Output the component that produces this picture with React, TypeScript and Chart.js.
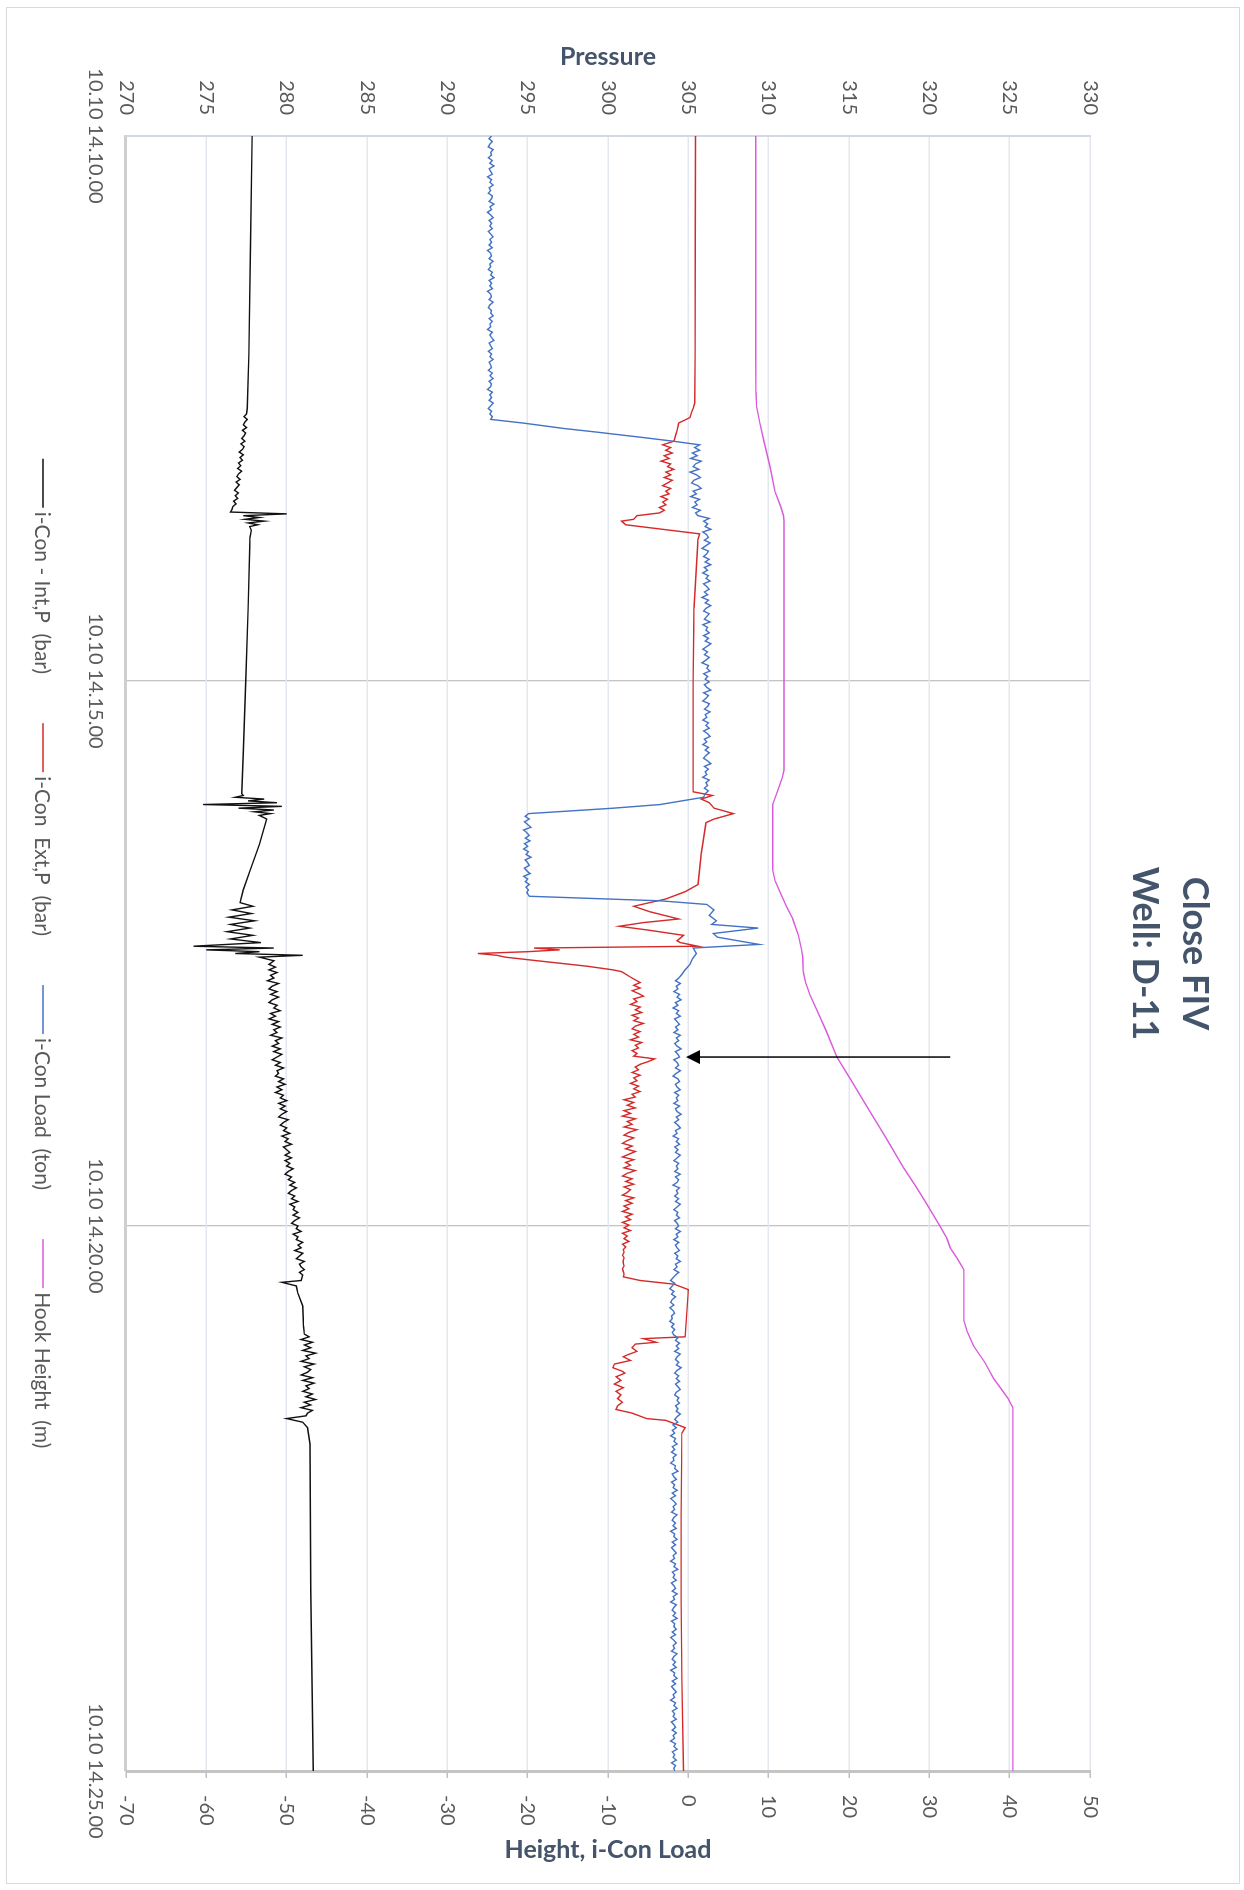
import React, { useEffect, useRef } from 'react';
import { Chart, registerables } from 'chart.js';

Chart.register(...registerables);

// ---------- text ----------
const TITLE_LINES = ['Close FIV', 'Well: D-11'];
const AXIS_TITLES = ['Pressure', 'Height, i-Con Load'];
const SERIES_NAMES = ['i-Con - Int,P  (bar)', 'i-Con  Ext,P  (bar)', 'i-Con Load  (ton)', 'Hook Height  (m)'];
const SERIES_COLORS = ['#111111', '#D42A2A', '#4472C4', '#DA5ADC'];
const TIME_TICKS = [0, 300, 600, 900]; // seconds after 14:10:00
const TIME_LABELS = ['10.10 14.10.00', '10.10 14.15.00', '10.10 14.20.00', '10.10 14.25.00'];

// arrow annotation (time s, from height, to height)
const ARROW = [507, 32.6, -0.3];

// helper: a run of readings sampled every dt seconds from t0
const seq = (t0: number, dt: number, v: number[]): [number, number][] => v.map((y, i) => [t0 + i * dt, y]);

// ---------- sampled readings (1.5 s apart) ----------
const INT_P_A = [
  277.5, 277.35, 277.55, 277.4, 277.3, 277.5, 277.25, 277.45, 277.35, 277.2,
  277.4, 277.15, 277.35, 277.25, 277.05, 277.3, 277.1, 277.25, 277.0, 277.15,
  276.95, 277.2, 277.0, 276.9, 277.1, 276.85, 277.05, 276.9, 276.75, 277.0,
  276.8, 276.95, 276.7, 276.85, 276.65, 276.6,
];
const INT_P_B = [
  279.3, 278.9, 279.4, 279.0, 279.2, 278.8, 279.5, 279.1, 278.9, 279.4,
  279.0, 279.5, 279.1, 278.9, 279.4, 279.2, 279.6, 279.0, 279.3, 278.9,
  279.5, 279.1, 279.6, 279.2, 279.4, 279.0, 279.7, 279.3, 279.5, 279.1,
  279.6, 279.2, 279.7, 279.4, 279.1, 279.6, 279.3, 279.8, 279.4, 279.5,
  279.3, 279.8, 279.5, 279.9, 279.4, 279.7, 279.3, 279.8, 279.6, 280.0,
  279.5, 279.9, 279.6, 280.0, 279.7, 279.5, 280.1, 279.8, 279.6, 280.0,
  279.8, 280.2, 279.7, 280.1, 279.9, 280.3, 279.8, 280.0, 280.2, 279.9,
  280.3, 279.9, 280.2, 280.0, 280.4, 280.1, 279.9, 280.3, 280.1, 280.5,
  280.2, 280.6, 280.3, 280.1, 280.5, 280.3, 280.7, 280.2, 280.5, 280.4,
  280.7, 280.4, 280.8, 280.5, 280.3, 280.7, 280.6, 280.9, 280.4, 280.7,
  280.6, 281.0, 280.7, 280.9, 280.5, 281.0, 280.8, 280.6, 281.1, 280.8,
  280.9, 281.1, 280.8, 281.0,
];
const INT_P_C = [
  281.4, 280.9, 281.6, 281.1, 281.5, 281.0, 281.8, 281.2, 281.4, 280.9,
  281.7, 281.1, 281.5, 281.3, 280.9, 281.6, 281.0, 281.7, 281.2, 281.4,
  281.0, 281.6, 281.2, 281.8, 281.1, 281.5, 280.9, 281.6, 281.3, 281.2,
];
const EXT_P_A = [
  303.4, 303.9, 303.6, 304.0, 303.5, 303.8, 303.3, 303.9, 303.7, 304.1,
  303.6, 303.9, 303.5, 304.0, 303.7, 303.4, 303.9, 303.6, 303.8, 303.3,
  303.7, 303.4, 303.6, 303.2, 303.5, 303.2,
];
const EXT_P_B = [
  301.6, 302.0, 301.5, 301.9, 302.2, 301.6, 301.8, 301.4, 302.0, 301.7,
  302.1, 301.5, 301.9, 301.6, 302.2, 301.7, 301.5, 302.0, 301.6, 301.9,
  301.4, 302.1, 301.7, 301.9, 301.5, 301.8, 301.6,
  302.9, 302.5, 302.0, 301.7,
  301.9, 301.5, 302.0, 301.6, 301.8, 301.4, 301.9, 301.6, 302.0, 301.5, 301.7,
  301.0, 301.6, 301.2, 301.7, 301.0, 301.4, 300.9, 301.7, 301.2, 301.5,
  301.0, 301.8, 301.3, 301.0, 301.6, 301.2, 300.9, 301.5, 301.1, 301.7,
  301.3, 300.9, 301.6, 301.1, 301.4, 301.0, 301.7, 301.2, 300.9, 301.5,
  301.1, 301.6, 301.0, 301.4, 301.2, 300.9, 301.6, 301.1, 301.5, 301.0,
  301.3, 300.9, 301.5, 301.1, 301.4, 300.9, 301.3, 301.0, 301.4, 300.9,
  301.2, 301.0, 301.3, 300.9, 301.1, 300.95, 301.0, 300.9, 301.0, 300.95,
  300.95, 301.0, 300.9, 300.95, 301.0, 300.95,
];
const LOAD_A = [
  -24.5, -24.8, -24.4, -24.7, -24.9, -24.3, -24.6, -24.5, -24.9, -24.4,
  -24.7, -24.2, -24.8, -24.6, -24.4, -25.0, -24.5, -24.7, -24.3, -24.8,
  -24.6, -24.9, -24.4, -24.5, -24.8, -24.2, -24.7, -24.5, -25.0, -24.6,
  -24.3, -24.8, -24.5, -24.7, -24.4, -24.9, -24.6, -24.3, -24.7, -24.5,
  -24.8, -24.4, -25.0, -24.6, -24.5, -24.8, -24.3, -24.7, -24.6, -24.9,
  -24.4, -24.6, -24.2, -24.8, -24.5, -24.7, -24.4, -25.0, -24.6, -24.5,
  -24.8, -24.3, -24.7, -24.9, -24.5, -24.6, -24.3, -24.8, -24.4, -24.7,
  -24.6, -25.0, -24.4, -24.7, -24.5, -24.2, -24.8, -24.6, -24.4, -24.9,
  -24.5, -24.7, -24.3, -24.8, -24.6, -24.5, -24.9, -24.4, -24.7, -24.3,
  -24.8, -24.5, -24.6, -25.0, -24.4, -24.7, -24.5, -24.8, -24.3, -24.6,
  -24.9, -24.5, -24.7, -24.4, -24.6,
];
const LOAD_B = [
  0.8, 1.4, 0.5, 1.1, 0.3, 1.6, 0.9, 0.6, 1.3, 0.2, 1.0, 1.5, 0.7,
  0.4, 1.2, 1.6, 0.6, 1.0, 0.3, 1.4, 0.8, 1.1, 0.5, 1.5, 0.9, 1.2,
];
const LOAD_C = [
  2.6, 1.9, 2.4, 2.1, 2.8, 1.8, 2.3, 2.5, 2.0, 2.7,
  2.2, 1.7, 2.5, 2.3, 1.9, 2.6, 2.1, 2.8, 2.0, 2.4,
  1.8, 2.5, 2.2, 2.7, 1.9, 2.3, 2.6, 2.0, 2.4, 1.7,
  2.5, 2.1, 2.8, 2.2, 1.9, 2.6, 2.3, 2.0, 2.7, 1.8,
  2.4, 2.2, 2.6, 1.9, 2.5, 2.1, 2.8, 2.3, 1.8, 2.4,
  2.0, 2.6, 2.2, 1.7, 2.5, 2.3, 2.7, 1.9, 2.4, 2.1,
  2.6, 2.0, 2.3, 2.8, 1.9, 2.5, 2.2, 1.8, 2.6, 2.4,
  2.0, 2.7, 2.1, 2.3, 1.8, 2.5, 2.2, 2.6, 1.9, 2.4,
  2.7, 2.0, 2.3, 1.8, 2.5, 2.1, 2.6, 2.2, 1.9, 2.4,
  2.8, 2.0, 2.5, 2.1, 2.3, 1.8, 2.6, 2.2, 2.4, 2.0,
  2.5, 2.1,
];
const LOAD_D = [
  -20.3, -19.8, -20.4, -20.0, -19.6, -20.5, -20.1, -19.8, -20.3, -19.7,
  -20.4, -20.0, -20.5, -19.9, -20.2, -19.6, -20.3, -20.0, -19.8, -20.4,
  -20.1, -19.7, -20.5, -20.0, -20.3, -19.8, -20.2, -19.9, -20.1,
];
const LOAD_E = [
  -1.2, -1.6, -1.0, -1.5, -1.3, -1.8, -1.1, -1.4, -0.9, -1.6,
  -1.3, -1.9, -1.2, -1.5, -1.0, -1.7, -1.4, -1.1, -1.6, -1.3,
  -1.8, -1.0, -1.5, -1.2, -1.7, -1.4, -0.9, -1.6, -1.3, -1.1,
  -1.8, -1.4, -1.2, -1.6, -1.0, -1.5, -1.9, -1.3, -1.1, -1.6,
  -1.4, -1.0, -1.7, -1.2, -1.5, -1.3, -1.8, -1.1, -1.6, -1.4,
  -0.9, -1.5, -1.2, -1.7, -1.3, -1.0, -1.6, -1.4, -1.9, -1.2,
  -1.5, -1.1, -1.7, -1.3, -1.6, -1.0, -1.4, -1.8, -1.2, -1.5,
  -1.3, -1.7, -1.0, -1.6, -1.2, -1.4, -1.9, -1.1, -1.5, -1.3,
  -1.7, -1.2, -1.6, -1.0, -1.4, -1.8, -1.3, -1.5, -1.1, -1.7,
  -1.4, -1.2, -1.6, -1.0, -1.5, -1.3, -1.8, -1.2, -1.6, -1.4,
  -1.1, -1.7, -1.3, -1.5, -1.0, -1.6, -1.4, -1.8, -1.2, -1.6,
];
const LOAD_F = [
  -1.9, -2.2, -1.7, -2.0, -2.3, -1.8, -2.1, -1.6, -2.0, -2.2, -1.8,
  -2.3, -1.9, -1.7, -2.1, -2.0, -2.3, -1.8, -2.1, -1.7, -2.0, -1.8,
];
const LOAD_G = [
  -1.3, -1.6, -1.1, -1.5, -1.2, -1.7, -1.0, -1.4, -1.6, -1.2, -1.5, -0.9, -1.4, -1.7, -1.2, -1.5,
  -1.1, -1.6, -1.3, -1.0, -1.5, -1.7, -1.2, -1.4, -1.1, -1.6, -1.3, -1.5, -1.0, -1.4, -1.7, -1.3,
];
const LOAD_H = [
  -1.9, -1.5, -2.0, -1.7, -2.2, -1.6, -1.8, -1.4, -2.0, -1.7,
  -2.1, -1.5, -1.9, -1.8, -2.2, -1.6, -1.7, -1.3, -2.0, -1.8,
  -1.5, -2.1, -1.7, -1.9, -1.4, -2.0, -1.6, -2.2, -1.8, -1.5,
  -1.9, -1.7, -2.1, -1.4, -1.8, -2.0, -1.6, -1.9, -1.5, -2.2,
  -1.7, -1.8, -1.4, -2.0, -1.6, -2.1, -1.8, -1.5, -1.9, -1.7,
  -2.2, -1.6, -1.8, -1.3, -2.0, -1.7, -1.9, -1.5, -2.1, -1.8,
  -1.6, -2.0, -1.4, -1.9, -1.7, -2.2, -1.5, -1.8, -2.0, -1.6,
  -1.9, -1.4, -2.1, -1.7, -1.8, -1.5, -2.0, -1.6, -2.2, -1.8,
  -1.5, -1.9, -1.7, -2.1, -1.4, -1.8, -2.0, -1.6, -1.9, -1.5,
  -2.2, -1.7, -1.8, -1.4, -2.0, -1.6, -2.1, -1.8, -1.5, -1.9,
  -1.7, -2.2, -1.6, -1.8, -1.4, -2.0, -1.7, -1.9, -1.5, -2.1,
  -1.8, -1.6, -2.0, -1.5, -1.9, -1.7, -2.2, -1.6, -1.8, -1.4,
  -2.0, -1.7, -1.9, -1.5, -2.1, -1.6, -1.8, -1.7,
];

// ---------- series: [seconds after 14:10:00, value] ----------
const INT_P: [number, number][] = [
  [0, 277.85], [60, 277.75], [120, 277.65], [150, 277.55],
  ...seq(153, 1.5, INT_P_A),
  [207, 276.5], [208, 280.0], [209, 277.3], [210, 278.3],
  [211, 277.4], [212, 278.6], [213, 277.6], [214, 278.2], [215, 277.7], [217, 277.8], [221, 277.72],
  [260, 277.6], [300, 277.45], [340, 277.3], [362, 277.2],
  [363, 277.3], [364, 276.8], [365, 278.6], [366, 277.6], [367, 279.4], [368, 274.8], [369, 279.7], [370, 277.0],
  [371, 279.2], [372, 278.0], [373, 279.0], [374, 278.3], [376, 278.76],
  [390, 278.3], [405, 277.7], [415, 277.3], [422, 277.1],
  [424, 277.9], [426, 276.6], [428, 277.8], [430, 276.4], [432, 278.0], [434, 276.5], [436, 277.7], [438, 276.3],
  [440, 277.9], [442, 276.5], [444, 278.4], [446, 274.2], [447, 279.2], [448, 275.0], [449, 278.3], [450, 276.8],
  [451, 281.0], [452, 278.3], [454, 279.2], [456, 278.9],
  ...seq(457.5, 1.5, INT_P_B),
  [630, 280.9], [631, 279.7], [633, 280.6], [637, 280.7], [644, 281.0], [655, 281.05], [659.5, 281.1],
  ...seq(661, 1.5, INT_P_C),
  [706, 280.0], [708, 281.0], [711, 281.3], [720, 281.45], [800, 281.5], [900, 281.65],
];

const EXT_P: [number, number][] = [
  [0, 305.45], [60, 305.43], [120, 305.42], [147, 305.4], [150, 305.3], [152, 305.2], [155, 305.1], [158, 304.4],
  [162, 304.3], [165, 304.2], [168, 304.1],
  ...seq(170, 1.5, EXT_P_A),
  [209, 301.8], [211, 301.6], [212, 300.85], [214, 301.1], [219, 305.7], [222, 305.6], [260, 305.35], [300, 305.3],
  [340, 305.3], [361, 305.3],
  [363, 306.5], [365, 305.8], [367, 306.3], [370, 306.6], [373, 307.8], [376, 306.6], [378, 306.1], [395, 305.8],
  [412, 305.6], [416, 304.8], [420, 303.6], [424, 301.6], [427, 302.6], [431, 304.4], [433, 302.2], [435, 300.7],
  [437, 302.4], [440, 304.7], [443, 304.3], [444, 304.5], [446, 305.6], [447, 295.4], [448, 297.0], [449, 295.0],
  [450, 291.9], [451, 293.1], [452, 293.6], [454, 295.6], [457, 298.7], [459, 300.3], [460, 300.85], [463, 301.4],
  [466, 302.0],
  ...seq(467.5, 1.5, EXT_P_B),
  [630, 302.0], [632, 304.1], [635, 305.0], [661, 304.8],
  [662, 302.2], [664, 303.0], [665, 301.7], [667, 301.5], [669, 301.8], [671, 301.2], [672, 300.95], [674, 301.4],
  [676, 300.4], [678, 300.3], [680, 300.9], [681, 301.05], [683, 300.5], [685, 300.8], [687, 300.4], [689, 300.95],
  [691, 300.5], [693, 300.8], [695, 300.6], [697, 300.9], [699, 300.6], [701, 300.5], [703, 301.5], [706, 302.4],
  [707, 303.6], [711, 304.8], [714, 304.6], [760, 304.55], [806, 304.55], [850, 304.6], [900, 304.7],
];

const LOAD: [number, number][] = [
  ...seq(0, 1.5, LOAD_A),
  [158, -20.6], [161, -15.5], [163, -11.4], [166, -5.6], [168, -1.9], [170, 1.4],
  ...seq(171.5, 1.5, LOAD_B),
  ...seq(210.5, 1.5, LOAD_C),
  [364, 1.9], [368, -3.5], [370, -9.3], [373, -19.9],
  ...seq(374.5, 1.5, LOAD_D),
  [418.5, -19.8], [421, -3.5], [423, 2.3], [426, 3.2], [429, 2.6], [432, 3.5], [434, 2.9], [436, 8.7], [439, 3.1],
  [441, 3.6], [445, 8.8], [447, 0.6], [450, 1.0], [453, 0.5], [456, 0.2], [459, -0.4], [462, -0.9],
  ...seq(463.5, 1.5, LOAD_E),
  ...seq(628.5, 1.5, LOAD_F),
  ...seq(661.5, 1.5, LOAD_G),
  ...seq(709.5, 1.5, LOAD_H),
];

const HOOK_HEIGHT: [number, number][] = [
  [0, 8.4], [120, 8.4], [141, 8.43], [149, 8.5], [158, 8.9], [167, 9.35], [182, 10.17], [196, 10.8], [204, 11.5],
  [209, 11.85], [212, 11.9], [349, 11.9], [353, 11.7], [357, 11.4], [362, 11.0], [368, 10.5], [404, 10.5],
  [410, 10.8], [416, 11.4], [424, 12.2], [431, 13.0], [440, 13.7], [448, 14.1], [452, 14.25], [460, 14.3],
  [466, 14.6], [473, 15.15], [483, 16.2], [493, 17.2], [507, 18.5], [520, 20.3], [534, 22.2], [550, 24.4],
  [568, 26.8], [578, 28.3], [588, 29.7], [600, 31.3], [607, 32.2], [612, 32.6], [618, 33.5], [624, 34.3],
  [652, 34.3], [658, 34.7], [666, 35.5], [675, 36.9], [684, 38.0], [690, 39.0], [695, 39.8], [700, 40.4],
  [900, 40.4],
];

// ---------- layout (unrotated chart; page is rotated 90deg clockwise) ----------
const CW = 1877; // original width  (page height)
const CH = 1234; // original height (page width)
const FONT = 'Lato, "Open Sans", sans-serif';

const toXY = (arr: [number, number][]) => arr.map(([x, y]) => ({ x, y }));

const decorPlugin = {
  id: 'decor',
  afterDatasetsDraw(chart: any) {
    const ctx = chart.ctx;
    const { x, y1 } = chart.scales;
    const px = x.getPixelForValue(ARROW[0]);
    const pTail = y1.getPixelForValue(ARROW[1]);
    const pTip = y1.getPixelForValue(ARROW[2]);
    const head = 14;
    ctx.save();
    ctx.strokeStyle = '#000';
    ctx.fillStyle = '#000';
    ctx.lineWidth = 1.5;
    ctx.beginPath();
    ctx.moveTo(px, pTail);
    ctx.lineTo(px, pTip - head + 2);
    ctx.stroke();
    ctx.beginPath();
    ctx.moveTo(px, pTip);
    ctx.lineTo(px - 7, pTip - head);
    ctx.lineTo(px + 7, pTip - head);
    ctx.closePath();
    ctx.fill();
    ctx.restore();
  },
  afterDraw(chart: any) {
    const ctx = chart.ctx;
    const ca = chart.chartArea;
    const cx = (ca.left + ca.right) / 2;
    const cy = (ca.top + ca.bottom) / 2;
    ctx.save();
    ctx.textAlign = 'center';
    ctx.textBaseline = 'middle';
    // chart title
    ctx.fillStyle = '#44546A';
    ctx.font = `bold 36px ${FONT}`;
    ctx.fillText(TITLE_LINES[0], cx, ca.top - 105);
    ctx.fillText(TITLE_LINES[1], cx, ca.top - 55);
    // axis titles
    ctx.font = `bold 25px ${FONT}`;
    ctx.save();
    ctx.translate(ca.left - 79, cy);
    ctx.rotate(-Math.PI / 2);
    ctx.fillText(AXIS_TITLES[0], 0, 0);
    ctx.restore();
    ctx.save();
    ctx.translate(ca.right + 79, cy);
    ctx.rotate(-Math.PI / 2);
    ctx.fillText(AXIS_TITLES[1], 0, 0);
    ctx.restore();
    // legend
    ctx.font = `21px ${FONT}`;
    const markLen = 49;
    const markGap = 4;
    const itemGap = 49;
    const widths = SERIES_NAMES.map((n) => ctx.measureText(n).width);
    const total = widths.reduce((a, w) => a + markLen + markGap + w, 0) + itemGap * (SERIES_NAMES.length - 1);
    let u = cx - total / 2;
    const ly = ca.bottom + 83;
    ctx.textAlign = 'left';
    SERIES_NAMES.forEach((name, i) => {
      ctx.strokeStyle = SERIES_COLORS[i];
      ctx.lineWidth = 1.5;
      ctx.beginPath();
      ctx.moveTo(u, ly);
      ctx.lineTo(u + markLen, ly);
      ctx.stroke();
      ctx.fillStyle = '#595959';
      ctx.fillText(name, u + markLen + markGap, ly + 1);
      u += markLen + markGap + widths[i] + itemGap;
    });
    ctx.restore();
  },
};

export default function App() {
  const ref = useRef<HTMLCanvasElement | null>(null);

  useEffect(() => {
    if (!ref.current) return;
    const ds = (label: string, data: [number, number][], color: string, axis: string, order: number) => ({
      label,
      data: toXY(data),
      borderColor: color,
      backgroundColor: color,
      borderWidth: 1.4,
      pointRadius: 0,
      tension: 0,
      fill: false,
      yAxisID: axis,
      order,
    });
    const chart = new Chart(ref.current, {
      type: 'line',
      data: {
        datasets: [
          ds(SERIES_NAMES[0], INT_P, SERIES_COLORS[0], 'y', 4),
          ds(SERIES_NAMES[1], EXT_P, SERIES_COLORS[1], 'y', 3),
          ds(SERIES_NAMES[2], LOAD, SERIES_COLORS[2], 'y1', 2),
          ds(SERIES_NAMES[3], HOOK_HEIGHT, SERIES_COLORS[3], 'y1', 1),
        ],
      },
      options: {
        responsive: false,
        animation: false,
        devicePixelRatio: 1,
        layout: { padding: { top: 150, left: 0, right: 0, bottom: 0 } },
        plugins: { legend: { display: false }, title: { display: false }, tooltip: { enabled: false } },
        scales: {
          x: {
            type: 'linear',
            min: 0,
            max: 900,
            afterFit: (s: any) => { s.height = 120; },
            afterBuildTicks: (s: any) => { s.ticks = TIME_TICKS.map((v) => ({ value: v })); },
            ticks: {
              autoSkip: false,
              maxRotation: 0,
              padding: 19,
              color: '#595959',
              font: { family: FONT, size: 20 },
              callback: (v: any) => TIME_LABELS[TIME_TICKS.indexOf(Number(v))] ?? '',
            },
            grid: {
              drawTicks: false,
              lineWidth: 1.3,
              color: (c: any) => (c.tick && (c.tick.value === 0 || c.tick.value === 900) ? 'rgba(0,0,0,0)' : '#C4C4C4'),
            },
            border: { display: true, color: '#CFCFCF', width: 3 },
          },
          y: {
            type: 'linear',
            position: 'left',
            min: 270,
            max: 330,
            afterFit: (s: any) => { s.width = 129; },
            ticks: { stepSize: 5, padding: 21, color: '#595959', font: { family: FONT, size: 20 } },
            grid: { drawTicks: false, lineWidth: 1.5, color: '#E3E8F0' },
            border: { display: true, color: '#D3D9E4', width: 2 },
          },
          y1: {
            type: 'linear',
            position: 'right',
            min: -70,
            max: 50,
            afterFit: (s: any) => { s.width = 113; },
            ticks: { stepSize: 10, padding: 17, color: '#595959', font: { family: FONT, size: 20 } },
            grid: { drawOnChartArea: false, drawTicks: true, tickLength: 7, color: '#BFBFBF', lineWidth: 1.5 },
            border: { display: true, color: '#C4C4C4', width: 3 },
          },
        },
      } as any,
      plugins: [decorPlugin],
    });
    return () => chart.destroy();
  }, []);

  return (
    <div style={{ position: 'absolute', left: 0, top: 0, width: 1244, height: 1890, background: '#fff', overflow: 'hidden' }}>
      <div
        style={{
          position: 'absolute',
          left: 6,
          top: 7,
          width: 1234,
          height: 1877,
          border: '1.5px solid #D9D9D9',
          boxSizing: 'border-box',
        }}
      />
      <div
        style={{
          position: 'absolute',
          left: 6,
          top: 7,
          width: CW,
          height: CH,
          transformOrigin: '0 0',
          transform: `translateX(${CH}px) rotate(90deg)`,
        }}
      >
        <canvas ref={ref} width={CW} height={CH} style={{ display: 'block', width: CW, height: CH }} />
      </div>
    </div>
  );
}
